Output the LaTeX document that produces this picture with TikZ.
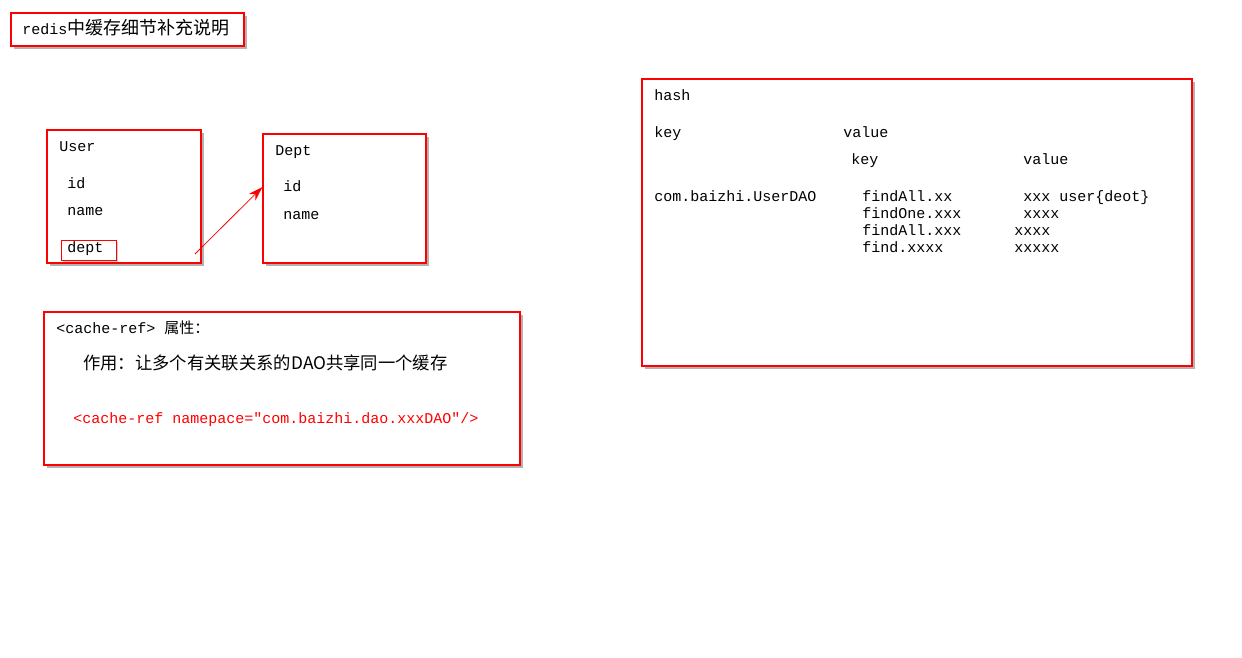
\documentclass[tikz,border=0pt]{standalone}
\usepackage{fontspec}
\setmonofont{Liberation Mono}
\newfontfamily\cjkfam{Noto Sans CJK SC}
\usetikzlibrary{positioning,arrows.meta,calc,fit,shadows}

\begin{document}
\begin{tikzpicture}[
  x=0.75pt, y=-0.75pt,
  font=\ttfamily\fontsize{11.25}{13}\selectfont,
  box/.style={draw=red, line width=0.8pt, fill=white, inner sep=0pt,
              drop shadow={shadow xshift=2.2pt, shadow yshift=-2.2pt,
                           opacity=0.3, fill=black}},
  fieldmark/.style={draw=red, line width=0.7pt, fill=white, inner sep=0pt,
               drop shadow={shadow xshift=1.2pt, shadow yshift=-1.2pt,
                            opacity=0.2, fill=black}},
  lbl/.style={anchor=base west, inner sep=0pt},
  code/.style={lbl, text=red},
  zh/.style={lbl, font=\cjkfam\fontsize{13}{15}\selectfont},
  arr/.style={-{Stealth[length=11pt, width=7pt]}, red, line width=0.6pt},
]
\useasboundingbox (0,0) rectangle (1242,657);

%% ---------- title ----------
\node[box, fit={(11,13) (244,46)}] (titlebox) {};
\node[lbl] (title) at (22,34) {redis{\cjkfam\fontsize{13.5}{16}\selectfont 中缓存细节补充说明}};

%% ---------- User / Dept ----------
\node[box, fit={(47,130) (201,263)}] (user) {};
\node[lbl] (uname) at (59,151) {User};
\node[lbl] (uid) at (67,188) {id};
\node[lbl] (uuname) at (67,215) {name};
\node[fieldmark, fit={(61,240) (116,260)}] (deptmark) {};
\node[lbl] (udept) at (67,252) {dept};

\node[box, fit={(263,134) (426,263)}] (dept) {};
\node[lbl] (dname) at (275,155) {Dept};
\node[lbl] (did) at (283,191) {id};
\node[lbl] (dnm) at (283,219) {name};

\coordinate (ref) at (195,254);
\coordinate (tgt) at (dept.west |- 0,187);
\draw[arr] (ref) -- (tgt);

%% ---------- cache-ref ----------
\node[box, fit={(44,312) (520,465)}] (cacheref) {};
\node[lbl] (crhead) at (56,333) {<cache-ref> {\cjkfam 属性：}};
\node[zh] (crnote) at (83,369) {作用：让多个有关联关系的DAO共享同一个缓存};
\node[code] (crtag) at (73,423) {<cache-ref namepace="com.baizhi.dao.xxxDAO"/>};

%% ---------- hash ----------
\node[box, fit={(642,79) (1192,366)}] (hashbox) {};
\node[lbl] (hash) at (654,100) {hash};
\node[lbl] (hkey) at (654,137) {key};
\node[lbl] (hval) at (843,137) {value};
\node[lbl] (ikey) at (851,164) {key};
\node[lbl] (ival) at (1023,164) {value};
\node[lbl] (dao) at (654,201) {com.baizhi.UserDAO};
\node[lbl] (k1) at (862,201) {findAll.xx};
\node[lbl] (v1) at (1023,201) {xxx user\{deot\}};
\node[lbl] (k2) at (862,218) {findOne.xxx};
\node[lbl] (v2) at (1023,218) {xxxx};
\node[lbl] (k3) at (862,235) {findAll.xxx};
\node[lbl] (v3) at (1014,235) {xxxx};
\node[lbl] (k4) at (862,252) {find.xxxx};
\node[lbl] (v4) at (1014,252) {xxxxx};

\end{tikzpicture}
\end{document}
